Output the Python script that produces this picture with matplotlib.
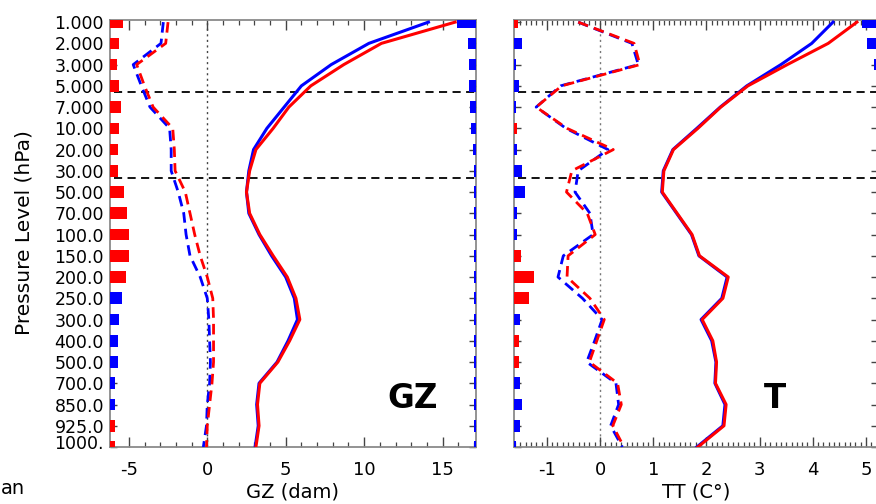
import numpy as np
import matplotlib
matplotlib.use("Agg")
import matplotlib.pyplot as plt
import matplotlib.transforms as mtransforms
from matplotlib.ticker import MultipleLocator, FixedLocator

plt.rcParams['font.family'] = ['DejaVu Sans']

# ---------------- data ----------------
levels = ["1.000", "2.000", "3.000", "5.000", "7.000", "10.00", "20.00", "30.00",
          "50.00", "70.00", "100.0", "150.0", "200.0", "250.0", "300.0", "400.0",
          "500.0", "700.0", "850.0", "925.0", "1000."]

gz_solid_blue = [14.1, 10.3, 7.9, 6.0, 4.9, 3.8, 2.95, 2.65, 2.5, 2.65, 3.3, 4.1,
                 5.0, 5.55, 5.75, 5.15, 4.45, 3.3, 3.15, 3.25, 3.05]
gz_solid_red = [15.8, 11.1, 8.7, 6.6, 5.2, 4.2, 3.1, 2.7, 2.5, 2.7, 3.35, 4.2,
                5.1, 5.65, 5.9, 5.25, 4.5, 3.35, 3.2, 3.3, 3.1]
gz_dash_blue = [-2.8, -2.95, -4.72, -4.2, -3.65, -2.4, -2.3, -2.3, -1.85, -1.5, -1.35,
                -1.1, -0.45, 0.0, 0.1, 0.15, 0.2, 0.15, 0.0, -0.05, -0.25]
gz_dash_red = [-2.5, -2.65, -4.5, -4.0, -3.45, -2.2, -2.1, -2.05, -1.4, -1.1, -0.8,
               -0.45, 0.0, 0.35, 0.4, 0.4, 0.4, 0.3, 0.15, 0.0, -0.05]
gz_left_bar = [0.83, 0.58, 0.45, 0.58, 0.7, 0.58, 0.5, 0.5, 0.9, 1.1, 1.2,
               1.2, 1.0, 0.75, 0.6, 0.5, 0.5, 0.3, 0.3, 0.3, 0.3]
gz_left_col = ['r'] * 13 + ['b'] * 6 + ['r'] * 2
gz_right_bar = [1.2, 0.5, 0.45, 0.45, 0.4, 0.3, 0.2, 0.13, 0.13, 0.13, 0.13,
                0.13, 0.13, 0.15, 0.15, 0.15, 0.15, 0.15, 0.15, 0.15, 0.13]
gz_right_col = ['b'] * 21

tt_solid_blue = [4.38, 3.98, 3.4, 2.76, 2.26, 1.82, 1.37, 1.19, 1.16, 1.44, 1.72,
                 1.86, 2.39, 2.29, 1.90, 2.10, 2.18, 2.16, 2.35, 2.31, 1.82]
tt_solid_red = [4.83, 4.29, 3.52, 2.78, 2.27, 1.84, 1.38, 1.20, 1.17, 1.45, 1.73,
                1.87, 2.41, 2.31, 1.92, 2.12, 2.19, 2.17, 2.37, 2.33, 1.84]
tt_dash_blue = [-0.41, 0.60, 0.72, -0.74, -1.2, -0.64, 0.15, -0.41, -0.47, -0.19, -0.13,
                -0.69, -0.79, -0.33, 0.04, -0.1, -0.25, 0.3, 0.35, 0.2, 0.42]
tt_dash_red = [-0.41, 0.64, 0.75, -0.72, -1.2, -0.62, 0.25, -0.53, -0.63, -0.24, -0.09,
               -0.6, -0.62, -0.19, 0.08, -0.06, -0.2, 0.33, 0.4, 0.24, 0.45]
tt_left_bar = [0.08, 0.15, 0.04, 0.1, 0.04, 0.05, 0.05, 0.15, 0.21, 0.06, 0.06,
               0.13, 0.38, 0.28, 0.12, 0.1, 0.1, 0.12, 0.15, 0.11, 0.04]
tt_left_col = ['r', 'b', 'b', 'b', 'b', 'r', 'b', 'b', 'b', 'b', 'b',
               'r', 'r', 'r', 'b', 'r', 'r', 'b', 'b', 'b', 'b']
tt_right_bar = [0.3, 0.2, 0.08] + [0.0] * 18
tt_right_col = ['b'] * 21

gz_xticks = [-5, 0, 5, 10, 15]
tt_xticks = [-1, 0, 1, 2, 3, 4, 5]
hlines = [3.3, 7.35]

# ---------------- figure ----------------
W, H = 876, 504
fig = plt.figure(figsize=(W / 100, H / 100), dpi=100)

def fx(px):
    return px / W

def fy(py):
    return 1 - py / H

ax1 = fig.add_axes([fx(110), fy(447), (476 - 110) / W, (447 - 20) / H])
ax2 = fig.add_axes([fx(514), fy(447), (878 - 514) / W, (447 - 20) / H])

idx = np.arange(len(levels))
colmap = {'r': '#ff0000', 'b': '#0000ff'}

def draw_panel(ax, xlim, sb, sr, db, dr, lb, lc, rb, rc, vcol):
    ax.set_xlim(*xlim)
    ax.set_ylim(20, -0.1)
    ax.axvline(0, color=vcol, lw=1.0, ls=(0, (1.5, 2.5)), zorder=1)
    for yv in hlines:
        ax.axhline(yv, xmin=0.01, xmax=1, color='black', lw=1.3,
                   ls=(0, (4.5, 3)), zorder=2)
    ax.plot(db, idx, color='#0000ff', lw=2.0, dashes=(3.8, 2.2), zorder=3)
    ax.plot(dr, idx, color='#ff0000', lw=2.0, dashes=(3.8, 2.2), zorder=3)
    ax.plot(sb, idx, color='#0000ff', lw=2.2, zorder=4)
    ax.plot(sr, idx, color='#ff0000', lw=2.2, zorder=4)
    x0, x1 = xlim
    ax.barh(idx, lb, height=0.55, left=x0, color=[colmap[c] for c in lc],
            zorder=5, linewidth=0)
    rbv = np.array(rb)
    ax.barh(idx, rbv, height=0.55, left=x1 - rbv, color=[colmap[c] for c in rc],
            zorder=5, linewidth=0)
    for s in ax.spines.values():
        s.set_color('#8a8a8a')
        s.set_linewidth(1.3)
    ax.yaxis.set_major_locator(FixedLocator(idx))
    ax.tick_params(axis='both', which='both', direction='in', top=True,
                   right=True, color='#444444')
    ax.tick_params(axis='y', which='major', length=5, width=1.0, pad=4.3,
                   labelsize=12.5)
    ax.tick_params(axis='x', which='major', length=7, width=1.0, pad=10,
                   labelsize=13)
    ax.tick_params(axis='x', which='minor', length=3.5, width=0.9)

draw_panel(ax1, (-6.2, 17.13), gz_solid_blue, gz_solid_red, gz_dash_blue,
           gz_dash_red, gz_left_bar, gz_left_col, gz_right_bar, gz_right_col,
           '#444444')
ax1.xaxis.set_major_locator(FixedLocator(gz_xticks))
ax1.xaxis.set_minor_locator(MultipleLocator(1))
ax1.set_xticklabels([str(t) for t in gz_xticks])
ax1.set_yticklabels(levels)
lab = ax1.get_yticklabels()[-1]
lab.set_transform(lab.get_transform() +
                  mtransforms.ScaledTranslation(0, 5 / 100, fig.dpi_scale_trans))

draw_panel(ax2, (-1.617, 5.226), tt_solid_blue, tt_solid_red, tt_dash_blue,
           tt_dash_red, tt_left_bar, tt_left_col, tt_right_bar, tt_right_col,
           '#777777')
ax2.xaxis.set_major_locator(FixedLocator(tt_xticks))
ax2.xaxis.set_minor_locator(MultipleLocator(0.1))
ax2.set_xticklabels([str(t) for t in tt_xticks])
ax2.set_yticklabels([])

# labels
fig.text(fx(30), fy(233), "Pressure Level (hPa)", rotation=90, ha='center',
         va='baseline', rotation_mode='anchor', fontsize=14.5)
fig.text(fx(293), fy(498), "GZ (dam)", ha='center', va='baseline', fontsize=14)
fig.text(fx(696), fy(498), "TT (C°)", ha='center', va='baseline', fontsize=14)
fig.text(fx(387), fy(408), "GZ", ha='left', va='baseline', fontsize=23.5,
         fontweight='bold')
fig.text(fx(764), fy(408), "T", ha='left', va='baseline', fontsize=23.5,
         fontweight='bold')
fig.text(fx(0.5), fy(494), "an", ha='left', va='baseline', fontsize=14)

fig.savefig("out.png", dpi=100)
